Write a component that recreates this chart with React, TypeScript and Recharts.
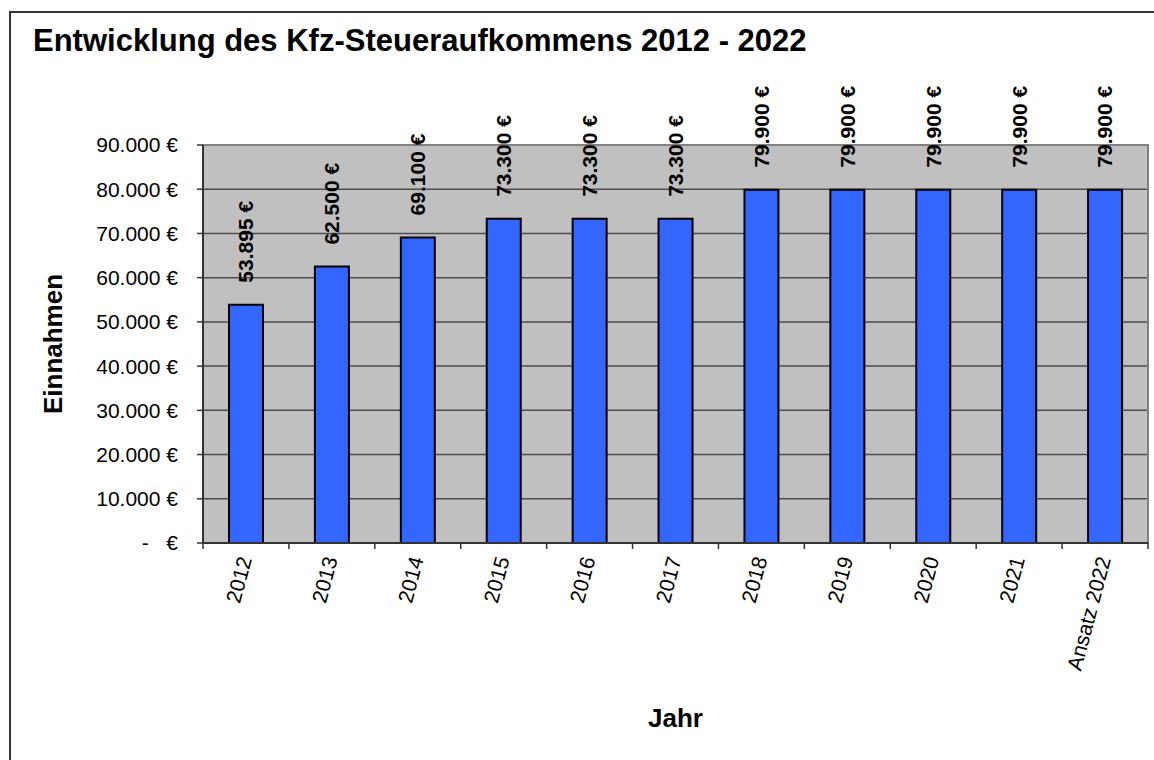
import * as R from "recharts";
import {
  BarChart,
  Bar,
  XAxis,
  YAxis,
  CartesianGrid,
  LabelList,
  Label,
} from "recharts";

const jahre = [
  "2012",
  "2013",
  "2014",
  "2015",
  "2016",
  "2017",
  "2018",
  "2019",
  "2020",
  "2021",
  "Ansatz 2022",
];
const einnahmen = [
  53895, 62500, 69100, 73300, 73300, 73300, 79900, 79900, 79900, 79900, 79900,
];
const yTicks = [0, 10000, 20000, 30000, 40000, 50000, 60000, 70000, 80000, 90000];

const data = jahre.map((jahr, i) => ({ jahr, wert: einnahmen[i] }));

const FONT = '"Liberation Sans", Arial, sans-serif';

const euro = (v: number) => {
  if (v === 0) return "-\u00A0\u00A0\u00A0€";
  return String(v).replace(/\B(?=(\d{3})+(?!\d))/g, ".") + " €";
};

function JahrTick(props: any) {
  const { x, y, payload, index } = props;
  const half = payload?.offset ?? 43;
  const last = index === jahre.length - 1;
  return (
    <g>
      <line x1={x - half} x2={x - half} y1={y - 6} y2={y} stroke="#333" strokeWidth={1.5} />
      {last && (
        <line x1={x + half} x2={x + half} y1={y - 6} y2={y} stroke="#333" strokeWidth={1.5} />
      )}
      <text
        transform={`translate(${x + 6},${y + 10}) rotate(-75)`}
        textAnchor="end"
        fontSize={21}
        fontFamily={FONT}
        fill="#000"
      >
        {payload.value}
      </text>
    </g>
  );
}

function ValueLabel(props: any) {
  const { x, y, width, value } = props;
  return (
    <text
      transform={`translate(${x + width / 2},${y - 22}) rotate(-90)`}
      dy="0.35em"
      fontSize={21}
      fontWeight="bold"
      fontFamily={FONT}
      fill="#000"
    >
      {euro(value)}
    </text>
  );
}

function PlotFrame() {
  const usePlot = (R as any).usePlotArea;
  const area = usePlot ? usePlot() : null;
  if (!area) return null;
  return (
    <rect
      x={area.x}
      y={area.y}
      width={area.width}
      height={area.height}
      fill="none"
      stroke="#808080"
      strokeWidth={2}
    />
  );
}

export default function App() {
  return (
    <div
      style={{
        position: "absolute",
        left: 0,
        top: 0,
        width: 1154,
        height: 760,
        background: "#fff",
        overflow: "hidden",
        fontFamily: FONT,
      }}
    >
      <div
        style={{
          position: "absolute",
          left: 9,
          top: 11,
          width: 2000,
          height: 2000,
          borderLeft: "2px solid #333",
          borderTop: "2px solid #333",
        }}
      />
      <div
        style={{
          position: "absolute",
          left: 33,
          top: 25,
          fontSize: 31,
          lineHeight: "31px",
          fontWeight: "bold",
          whiteSpace: "nowrap",
        }}
      >
        Entwicklung des Kfz-Steueraufkommens 2012 - 2022
      </div>
      <div style={{ position: "absolute", left: 0, top: 0 }}>
        <BarChart
          width={1154}
          height={760}
          data={data}
          margin={{ top: 145, right: 6, bottom: 0, left: 0 }}
          barSize={34}
        >
          <CartesianGrid
            vertical={false}
            fill="#C0C0C0"
            fillOpacity={1}
            stroke="#4d4d4d"
            strokeWidth={1.5}
          />
          <PlotFrame />
          <XAxis
            dataKey="jahr"
            height={217}
            interval={0}
            tickSize={6}
            tickMargin={0}
            tickLine={false}
            axisLine={{ stroke: "#333", strokeWidth: 2 }}
            tick={<JahrTick />}
          >
            <Label
              content={(p: any) => {
                const vb = p.viewBox;
                return (
                  <text
                    x={vb.x + vb.width / 2}
                    y={vb.y + 184}
                    textAnchor="middle"
                    fontSize={26}
                    fontWeight="bold"
                    fontFamily={FONT}
                    fill="#000"
                  >
                    Jahr
                  </text>
                );
              }}
            />
          </XAxis>
          <YAxis
            width={203}
            domain={[0, 90000]}
            ticks={yTicks}
            interval={0}
            tickSize={6}
            tickMargin={19}
            tickFormatter={euro}
            tick={{ fontSize: 21, fill: "#000", fontFamily: FONT }}
            tickLine={{ stroke: "#333", strokeWidth: 1.5 }}
            axisLine={{ stroke: "#333", strokeWidth: 2 }}
          >
            <Label
              content={(p: any) => {
                const vb = p.viewBox;
                const cy = vb.y + vb.height / 2;
                return (
                  <text
                    transform={`translate(62,${cy}) rotate(-90)`}
                    textAnchor="middle"
                    fontSize={26}
                    fontWeight="bold"
                    fontFamily={FONT}
                    fill="#000"
                  >
                    Einnahmen
                  </text>
                );
              }}
            />
          </YAxis>
          <Bar
            dataKey="wert"
            fill="#3366FF"
            stroke="#000"
            strokeWidth={2}
            isAnimationActive={false}
          >
            <LabelList dataKey="wert" content={<ValueLabel />} />
          </Bar>
        </BarChart>
      </div>
    </div>
  );
}
